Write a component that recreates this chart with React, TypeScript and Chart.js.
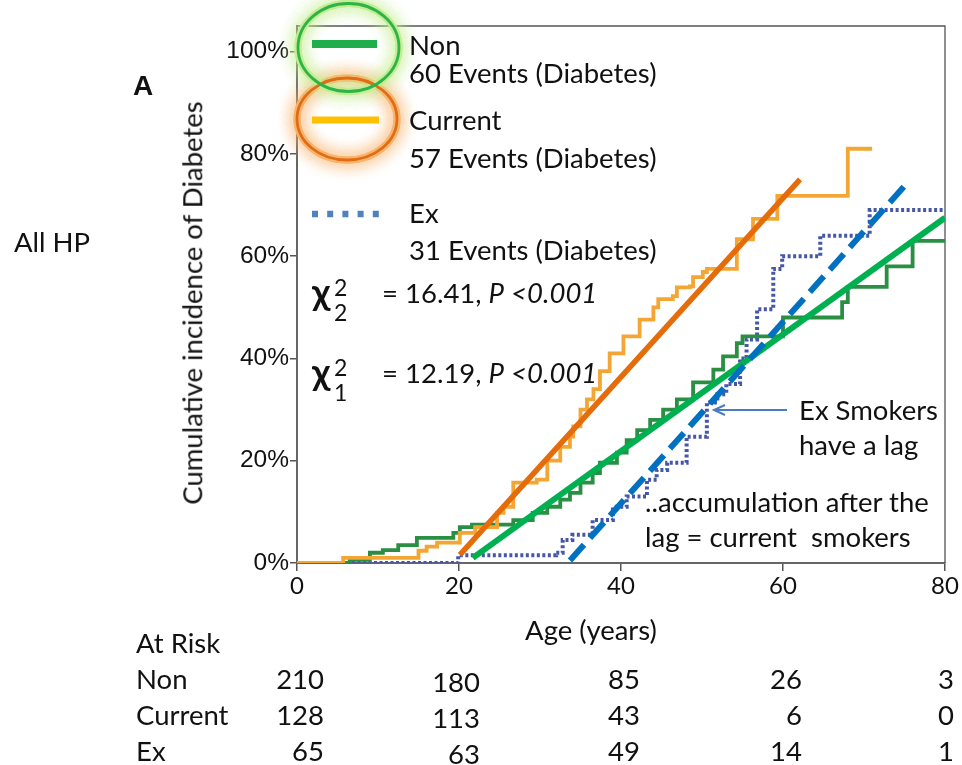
import React, { useEffect, useRef } from "react";
import { Chart, registerables } from "chart.js";
Chart.register(...registerables);

// ---- data ----
const nonAge = [0, 6.5, 9, 10.6, 12.5, 14.8, 19.3, 20.1, 21.6, 26.7, 29.1, 30.9, 32.5, 33.7, 35, 36.5, 37.4, 39.5, 40.7, 42, 43.6, 45.2, 46.9, 48.9, 51.4, 52.6, 54.3, 55, 60, 67.3, 68, 72.8, 76, 80];
const nonPct = [0, 0.6, 2, 2.5, 3.5, 4.9, 5.9, 7, 7.5, 8.4, 9.8, 11, 12.4, 13.7, 15.7, 17.6, 19.6, 21.6, 24, 26, 28, 30, 32, 35.3, 37.8, 40.4, 43, 44.3, 48, 51, 54, 58, 63, 63];

const curAge = [0, 5.7, 15, 16, 17.3, 20.1, 22, 24.7, 25.5, 26.7, 29.6, 30.9, 32.5, 33.7, 34.1, 35, 35.8, 36.6, 37.4, 38.6, 40.3, 42.3, 44, 44.6, 46.4, 46.9, 48.5, 48.9, 50.1, 50.6, 54.3, 56.3, 59.3, 68, 71];
const curPct = [0, 1, 2.4, 3.2, 4, 5.9, 7, 9.8, 11, 15.7, 16.3, 20, 22.7, 24.7, 26.7, 30, 32, 34, 37.5, 41, 44.3, 47.6, 50, 51.6, 52.2, 53.9, 54.1, 55.9, 56.9, 57.5, 63.3, 67.3, 71.8, 81, 81];

const exAge = [0, 19.9, 32, 32.8, 34, 36.5, 39, 40.7, 43.2, 44.4, 45.7, 48.1, 50.6, 51.9, 53, 54.7, 55.5, 56.8, 58.8, 59.9, 64.6, 70.7, 80];
const exPct = [0, 1.5, 2, 4.5, 5.5, 8.4, 11, 13, 16.3, 18.2, 19.6, 24.7, 31.4, 33, 35, 40, 43.7, 49.6, 57.5, 60, 64, 69, 69];

const trendCurAge = [20.1, 62.1];
const trendCurPct = [1.6, 75];
const trendNonAge = [21.7, 80];
const trendNonPct = [1.0, 67.5];
const trendExAge = [33.7, 75];
const trendExPct = [0.5, 73.7];

const xTicks = [0, 20, 40, 60, 80];
const yTicks = [0, 20, 40, 60, 80, 100];

const riskNon = [210, 180, 85, 26, 3];
const riskCurrent = [128, 113, 43, 6, 0];
const riskEx = [65, 63, 49, 14, 1];

// ---- helpers ----
const pts = (xs: number[], ys: number[]) => xs.map((x, i) => ({ x, y: ys[i] }));
const LATO = "Lato, 'Noto Sans', sans-serif";
const ARIAL = "'Liberation Sans', Arial, sans-serif";

type TP = {
  x: number; y: number; size: number; children?: React.ReactNode;
  bold?: boolean; italic?: boolean; family?: string; align?: "left" | "right" | "center"; color?: string;
};
const T = ({ x, y, size, children, bold, italic, family = LATO, align = "left", color = "#111" }: TP) => {
  const asc = family === ARIAL ? 0.8465 : 0.887;
  const style: React.CSSProperties = {
    position: "absolute",
    top: y - asc * size,
    fontSize: size,
    lineHeight: `${size}px`,
    fontFamily: family,
    fontWeight: bold ? 700 : 400,
    fontStyle: italic ? "italic" : "normal",
    whiteSpace: "pre",
    color,
  };
  if (align === "right") style.right = 962 - x;
  else if (align === "center") { style.left = x; style.transform = "translateX(-50%)"; }
  else style.left = x;
  return <div style={style}>{children}</div>;
};

const decor = {
  id: "decor",
  beforeDatasetsDraw(chart: any) {
    const { ctx, chartArea: a } = chart;
    ctx.save();
    ctx.strokeStyle = "#555";
    ctx.lineWidth = 1.3;
    ctx.beginPath();
    ctx.moveTo(a.left, a.top);
    ctx.lineTo(a.right, a.top);
    ctx.lineTo(a.right, a.bottom);
    ctx.stroke();
    ctx.restore();
  },
  afterDraw(chart: any) {
    const ctx: CanvasRenderingContext2D = chart.ctx;
    ctx.save();
    const glowE = (cx: number, cy: number, rx: number, ry: number, glow: string) => {
      ctx.save();
      ctx.shadowColor = glow;
      ctx.shadowBlur = 16;
      ctx.strokeStyle = glow;
      ctx.lineWidth = 7;
      for (let i = 0; i < 3; i++) {
        ctx.beginPath();
        ctx.ellipse(cx, cy, rx, ry, 0, 0, Math.PI * 2);
        ctx.stroke();
      }
      ctx.restore();
    };
    glowE(347, 119, 50, 41, "rgba(249,180,110,0.8)");
    glowE(348.5, 47.5, 50.5, 44, "rgba(195,238,145,0.8)");
    const stroke = (cx: number, cy: number, rx: number, ry: number, col: string) => {
      ctx.beginPath();
      ctx.ellipse(cx, cy, rx, ry, 0, 0, Math.PI * 2);
      ctx.strokeStyle = col;
      ctx.lineWidth = 2.8;
      ctx.stroke();
    };
    stroke(347, 119, 50, 41, "#e06c14");
    stroke(348.5, 47.5, 50.5, 44, "#2db34a");

    // legend samples
    ctx.lineCap = "butt";
    ctx.strokeStyle = "#1fae4b";
    ctx.lineWidth = 8;
    ctx.beginPath(); ctx.moveTo(312, 44); ctx.lineTo(377, 44); ctx.stroke();
    ctx.strokeStyle = "#ffc000";
    ctx.lineWidth = 7;
    ctx.beginPath(); ctx.moveTo(312, 120); ctx.lineTo(379, 120); ctx.stroke();
    ctx.strokeStyle = "#4f81bd";
    ctx.lineWidth = 6.5;
    ctx.setLineDash([6, 9.2]);
    ctx.beginPath(); ctx.moveTo(312, 214); ctx.lineTo(380, 214); ctx.stroke();
    ctx.setLineDash([]);

    // arrow
    ctx.strokeStyle = "#4a7ebb";
    ctx.lineWidth = 2;
    ctx.beginPath(); ctx.moveTo(787, 410); ctx.lineTo(715, 410); ctx.stroke();
    ctx.beginPath(); ctx.moveTo(725, 405); ctx.lineTo(714, 410); ctx.lineTo(725, 415); ctx.stroke();
    ctx.restore();
  },
};

function KMChart() {
  const ref = useRef<HTMLCanvasElement>(null);
  useEffect(() => {
    if (!ref.current) return;
    const chart = new Chart(ref.current, {
      type: "line",
      data: {
        datasets: [
          { label: "Ex", data: pts(exAge, exPct), stepped: true, borderColor: "#4657a8", borderWidth: 4, borderDash: [3, 2.5], pointRadius: 0, order: 5 },
          { label: "Non", data: pts(nonAge, nonPct), stepped: true, borderColor: "#2a8f43", borderWidth: 3.8, pointRadius: 0, order: 4 },
          { label: "Current", data: pts(curAge, curPct), stepped: true, borderColor: "#f4a634", borderWidth: 3.8, pointRadius: 0, order: 3 },
          { label: "Current trend", data: pts(trendCurAge, trendCurPct), borderColor: "#e46c0a", borderWidth: 5.5, pointRadius: 0, order: 2 },
          { label: "Non trend", data: pts(trendNonAge, trendNonPct), borderColor: "#00b050", borderWidth: 6, pointRadius: 0, order: 1 },
          { label: "Ex trend", data: pts(trendExAge, trendExPct), borderColor: "#0070c0", borderWidth: 6, borderDash: [21, 9], pointRadius: 0, order: 0 },
        ],
      },
      options: {
        responsive: false,
        animation: false,
        events: [],
        layout: { padding: { left: 0, top: 26, right: 17, bottom: 162 } },
        plugins: { legend: { display: false }, tooltip: { enabled: false } },
        scales: {
          x: {
            type: "linear",
            min: 0,
            max: 80,
            afterFit: (s: any) => { s.height = 40; },
            afterBuildTicks: (s: any) => { s.ticks = xTicks.map((v) => ({ value: v })); },
            ticks: { color: "#111", font: { family: LATO, size: 24 }, padding: 1, maxRotation: 0 },
            grid: { display: true, drawOnChartArea: false, drawTicks: true, tickLength: 8, color: "#555", lineWidth: 1.5 },
            border: { display: true, color: "#666", width: 2 },
          },
          y: {
            type: "linear",
            min: 0,
            max: 105,
            afterFit: (s: any) => { s.width = 297; },
            afterBuildTicks: (s: any) => { s.ticks = yTicks.map((v) => ({ value: v })); },
            ticks: { color: "#111", font: { family: ARIAL, size: 24.5 }, padding: 1, callback: (v: any) => `${v}%` },
            grid: { display: true, drawOnChartArea: false, drawTicks: true, tickLength: 7, color: "#555", lineWidth: 1.5 },
            border: { display: true, color: "#666", width: 2 },
          },
        },
      },
      plugins: [decor],
    } as any);
    return () => chart.destroy();
  }, []);
  return <canvas ref={ref} width={962} height={765} style={{ position: "absolute", left: 0, top: 0, width: 962, height: 765 }} />;
}

const colRight = [324, 480, 640, 802, 954];
const colShift = [0, 3, 0, 0, 0];

export default function App() {
  const fs = 27.5;
  return (
    <div style={{ position: "absolute", left: 0, top: 0, width: 962, height: 765, background: "#fff", overflow: "hidden" }}>
      <KMChart />
      {/* legend texts */}
      <T x={409} y={55} size={fs}>Non</T>
      <T x={409} y={83} size={fs}>60 Events (Diabetes)</T>
      <T x={409} y={130} size={fs}>Current</T>
      <T x={409} y={168} size={fs}>57 Events (Diabetes)</T>
      <T x={409} y={223} size={fs}>Ex</T>
      <T x={409} y={260} size={fs}>31 Events (Diabetes)</T>
      {/* chi-square */}
      <T x={312} y={305} size={37} bold>χ</T>
      <T x={334} y={296} size={23}>2</T>
      <T x={334} y={321} size={23}>2</T>
      <T x={382} y={303} size={fs}>= 16.41, <i>P</i> <i>&lt;0.001</i></T>
      <T x={312} y={385} size={37} bold>χ</T>
      <T x={334} y={376} size={23}>2</T>
      <T x={334} y={401} size={23}>1</T>
      <T x={382} y={383} size={fs}>= 12.19, <i>P</i> <i>&lt;0.001</i></T>
      {/* annotations */}
      <T x={799} y={420} size={fs}>Ex Smokers</T>
      <T x={799} y={455} size={fs}>have a lag</T>
      <T x={645} y={512} size={fs}>..accumulation after the</T>
      <T x={645} y={547} size={fs}>lag = current  smokers</T>
      {/* panel label, side label */}
      <T x={133} y={96} size={28} bold family={ARIAL}>A</T>
      <T x={14} y={252} size={fs}>All HP</T>
      {/* axis titles */}
      <div style={{ position: "absolute", left: 192, top: 303, transform: "translate(-50%,-50%) rotate(-90deg)", fontFamily: LATO, fontSize: 27.5, lineHeight: "27.5px", whiteSpace: "nowrap", color: "#111" }}>
        Cumulative incidence of Diabetes
      </div>
      <T x={591} y={640} size={fs} align="center">Age (years)</T>
      {/* at risk table */}
      <T x={136} y={653} size={fs}>At Risk</T>
      <T x={136} y={689} size={fs}>Non</T>
      <T x={136} y={725} size={fs}>Current</T>
      <T x={136} y={761} size={fs}>Ex</T>
      {riskNon.map((v, i) => <T key={"n" + i} x={colRight[i]} y={689 + colShift[i]} size={fs} align="right">{String(v)}</T>)}
      {riskCurrent.map((v, i) => <T key={"c" + i} x={colRight[i]} y={725 + colShift[i]} size={fs} align="right">{String(v)}</T>)}
      {riskEx.map((v, i) => <T key={"e" + i} x={colRight[i]} y={761 + colShift[i]} size={fs} align="right">{String(v)}</T>)}
    </div>
  );
}
